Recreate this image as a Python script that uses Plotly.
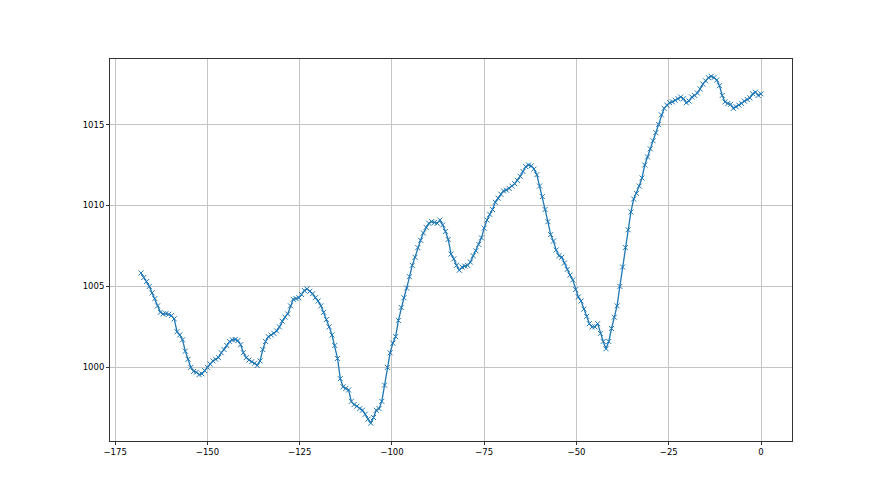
import plotly.graph_objects as go

# Readings every 0.75 h from -168 h to 0 h
x_start = -168.0
x_step = 0.75
pressure = [
    1005.83, 1005.55, 1005.3, 1005.0,
    1004.6, 1004.25, 1003.8, 1003.4,
    1003.3, 1003.32, 1003.28, 1003.2,
    1003.0, 1002.2, 1002.0, 1001.7,
    1001.0, 1000.5, 1000.0, 999.75,
    999.7, 999.55, 999.6, 999.8,
    1000.0, 1000.2, 1000.4, 1000.5,
    1000.6, 1000.9, 1001.1, 1001.35,
    1001.6, 1001.7, 1001.72, 1001.65,
    1001.4, 1000.9, 1000.6, 1000.45,
    1000.35, 1000.25, 1000.12, 1000.4,
    1001.1, 1001.6, 1001.9, 1002.0,
    1002.1, 1002.25, 1002.5, 1002.85,
    1003.1, 1003.3, 1003.8, 1004.2,
    1004.25, 1004.3, 1004.5, 1004.75,
    1004.85, 1004.7, 1004.55, 1004.3,
    1004.1, 1003.8, 1003.4, 1002.95,
    1002.5, 1002.0, 1001.35, 1000.55,
    999.3, 998.8, 998.7, 998.6,
    997.9, 997.7, 997.6, 997.45,
    997.35, 997.1, 996.8, 996.55,
    996.9, 997.35, 997.45, 997.9,
    998.9, 1000.0, 1000.9, 1001.5,
    1001.9, 1002.9, 1003.7, 1004.3,
    1004.9, 1005.6, 1006.3, 1006.8,
    1007.4, 1007.85, 1008.3, 1008.65,
    1008.9, 1009.0, 1008.95, 1008.9,
    1009.1, 1008.8, 1008.4, 1007.9,
    1007.0, 1006.7, 1006.3, 1006.0,
    1006.2, 1006.25, 1006.3, 1006.5,
    1006.9, 1007.2, 1007.6, 1008.0,
    1008.6, 1009.1, 1009.45, 1009.75,
    1010.2, 1010.45, 1010.7, 1010.9,
    1010.95, 1011.05, 1011.2, 1011.35,
    1011.55, 1011.8, 1012.1, 1012.4,
    1012.5, 1012.45, 1012.25, 1011.9,
    1011.2, 1010.55, 1009.75, 1009.0,
    1008.2, 1007.8, 1007.25, 1006.9,
    1006.8, 1006.45, 1006.05, 1005.7,
    1005.4, 1004.8, 1004.35, 1004.1,
    1003.6, 1003.15, 1002.7, 1002.5,
    1002.5, 1002.7, 1002.1, 1001.6,
    1001.15, 1001.6, 1002.4, 1003.1,
    1003.8, 1005.0, 1006.2, 1007.4,
    1008.5, 1009.6, 1010.4, 1010.75,
    1011.2, 1011.7, 1012.5, 1013.0,
    1013.5, 1014.0, 1014.5, 1015.0,
    1015.6, 1016.0, 1016.2, 1016.35,
    1016.4, 1016.5, 1016.6, 1016.7,
    1016.6, 1016.35, 1016.45, 1016.7,
    1016.8, 1016.95, 1017.2, 1017.5,
    1017.7, 1017.9, 1017.98, 1017.9,
    1017.75, 1017.4, 1016.8, 1016.4,
    1016.3, 1016.25, 1016.0, 1016.1,
    1016.2, 1016.3, 1016.45, 1016.55,
    1016.65, 1016.9, 1017.0, 1016.8,
    1016.9,
]
x_values = [x_start + i * x_step for i in range(len(pressure))]

x_ticks = [-175, -150, -125, -100, -75, -50, -25, 0]
y_ticks = [1000, 1005, 1010, 1015]

fig = go.Figure()
fig.add_trace(go.Scatter(
    x=x_values, y=pressure, mode="lines+markers",
    line=dict(color="#1f77b4", width=1.3),
    marker=dict(symbol="x-thin", size=5, line=dict(color="#1f77b4", width=1)),
    showlegend=False,
))

axis_common = dict(
    showline=True, linecolor="#333333", linewidth=1, mirror=True,
    ticks="outside", ticklen=3, tickcolor="#333333",
    showgrid=True, gridcolor="#c4c4c4", gridwidth=0.8,
    zeroline=False,
    tickfont=dict(family="DejaVu Sans", size=8.5, color="black"),
)

fig.update_layout(
    width=880, height=495,
    margin=dict(l=102, r=96, t=51, b=62),
    paper_bgcolor="white", plot_bgcolor="white",
    xaxis=dict(range=[-176.4, 8.4], tickvals=x_ticks, **axis_common),
    yaxis=dict(range=[995.45, 1019.05], tickvals=y_ticks, **axis_common),
)

fig.write_html("out.html")
